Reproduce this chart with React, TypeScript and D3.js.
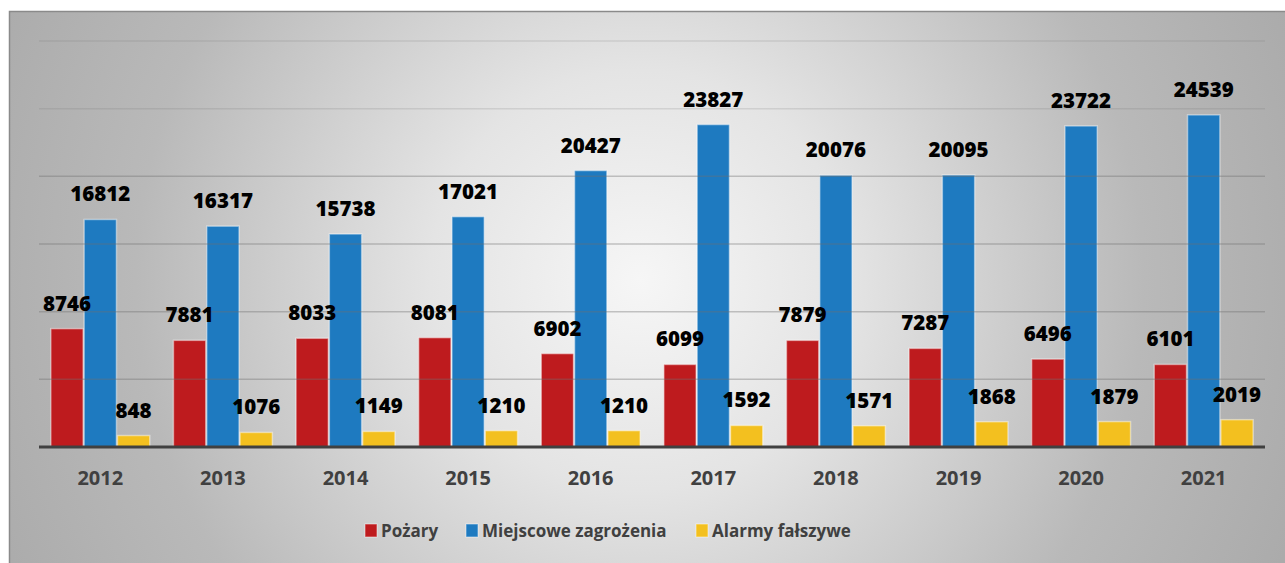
import React from "react";
import * as d3 from "d3";

const years = ["2012", "2013", "2014", "2015", "2016", "2017", "2018", "2019", "2020", "2021"];
const seriesNames = ["Pożary", "Miejscowe zagrożenia", "Alarmy fałszywe"];
const pozary = [8746, 7881, 8033, 8081, 6902, 6099, 7879, 7287, 6496, 6101];
const miejscowe = [16812, 16317, 15738, 17021, 20427, 23827, 20076, 20095, 23722, 24539];
const alarmy = [848, 1076, 1149, 1210, 1210, 1592, 1571, 1868, 1879, 2019];
const yTicks = [0, 5000, 10000, 15000, 20000, 25000, 30000];
const colors = ["#BE1B1E", "#1E7AC0", "#F3C01F"];

const W = 1285;
const H = 563;

export default function App() {
  const seriesValues = [pozary, miejscowe, alarmy];
  const x0 = d3.scaleBand<string>().domain(years).range([39, 1265]).paddingInner(0.185).paddingOuter(0.0925);
  const x1 = d3.scaleBand<string>().domain(seriesNames).range([0, x0.bandwidth()]);
  const y = d3.scaleLinear().domain([0, 30000]).range([447, 41]);
  const font = "'Open Sans', sans-serif";

  const legendX = [365, 466, 696];

  return (
    <svg width={W} height={H} style={{ position: "absolute", left: 0, top: 0 }}>
      <defs>
        <radialGradient id="bg" gradientUnits="userSpaceOnUse" cx={640} cy={280} r={700}>
          <stop offset="0" stopColor="#f6f6f6" />
          <stop offset="0.3" stopColor="#e4e4e4" />
          <stop offset="0.72" stopColor="#b9b9b9" />
          <stop offset="1" stopColor="#ababab" />
        </radialGradient>
      </defs>
      <rect x={0} y={0} width={W} height={H} fill="#ffffff" />
      <rect x={9.5} y={11.5} width={W + 10} height={H + 10} fill="url(#bg)" stroke="#8a8a8a" strokeWidth={1.5} />

      {years.map((yr, i) => (
        <g key={yr} transform={`translate(${x0(yr)},0)`}>
          {seriesValues.map((vals, s) => (
            <rect
              key={s}
              x={x1(seriesNames[s])! + 0.5}
              y={y(vals[i])}
              width={x1.bandwidth() - 1}
              height={y(0) - y(vals[i])}
              fill={colors[s]}
              stroke="rgba(255,255,255,0.45)"
              strokeWidth={1.5}
            />
          ))}
        </g>
      ))}

      {yTicks.filter((t) => t > 0).map((t) => (
        <line key={t} x1={39} x2={1265} y1={y(t)} y2={y(t)} stroke="#6e6e6e" strokeOpacity={t >= 25000 ? 0.18 : 0.38} strokeWidth={1.5} />
      ))}

      <line x1={39} x2={1265} y1={y(0)} y2={y(0)} stroke="#404040" strokeWidth={3} />

      {years.map((yr, i) => (
        <g key={"l" + yr} transform={`translate(${x0(yr)},0)`}>
          {seriesValues.map((vals, s) => (
            <text
              key={s}
              x={x1(seriesNames[s])! + x1.bandwidth() / 2}
              y={y(vals[i]) - 18}
              textAnchor="middle"
              fontFamily={font}
              fontWeight={800}
              fontSize={20.5}
              fill="#000000"
            >
              {vals[i]}
            </text>
          ))}
        </g>
      ))}

      {years.map((yr) => (
        <text
          key={"x" + yr}
          x={x0(yr)! + x0.bandwidth() / 2}
          y={485}
          textAnchor="middle"
          fontFamily={font}
          fontWeight={700}
          fontSize={20}
          fill="#404040"
        >
          {yr}
        </text>
      ))}

      {seriesNames.map((name, s) => (
        <g key={"lg" + s}>
          <rect x={legendX[s]} y={524} width={12} height={13} fill={colors[s]} stroke="rgba(255,255,255,0.5)" strokeWidth={1} />
          <text x={legendX[s] + 16} y={537} fontFamily={font} fontWeight={700} fontSize={17} fill="#404040">
            {name}
          </text>
        </g>
      ))}
    </svg>
  );
}
